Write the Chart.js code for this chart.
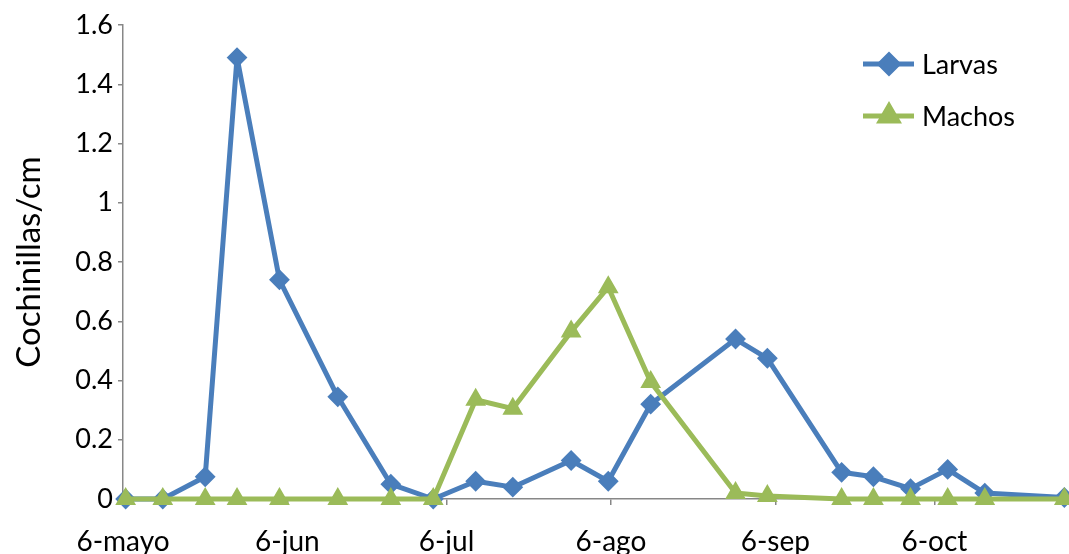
<!DOCTYPE html>
<html>
<head>
<meta charset="utf-8">
<script src="https://cdn.jsdelivr.net/npm/chart.js@4.4.1/dist/chart.umd.min.js"></script>
<style>
  html, body { margin: 0; padding: 0; background: #fff; }
  canvas { display: block; }
</style>
</head>
<body>
<canvas id="chart" width="1069" height="554"></canvas>
<script>
// fechas de muestreo (mes-dia)
const fechas = ['05-06', '05-13', '05-21', '05-27', '06-04', '06-15', '06-25', '07-03', '07-11', '07-18',
                '07-29', '08-05', '08-13', '08-29', '09-04', '09-18', '09-24', '10-01', '10-08', '10-15', '10-30'];
const larvas = [0, 0, 0.075, 1.49, 0.74, 0.345, 0.05, 0, 0.06, 0.04,
                0.13, 0.06, 0.32, 0.54, 0.475, 0.09, 0.075, 0.035, 0.10, 0.02, 0.005];
const machos = [0, 0, 0, 0, 0, 0, 0, 0, 0.335, 0.305,
                0.565, 0.715, 0.395, 0.02, 0.01, 0, 0, 0, 0, 0, 0];
const tickFechas = ['05-06', '06-06', '07-06', '08-06', '09-06', '10-06'];
const tickLabels = ['6-mayo', '6-jun', '6-jul', '6-ago', '6-sep', '6-oct'];
const yTicks = [0, 0.2, 0.4, 0.6, 0.8, 1, 1.2, 1.4, 1.6];

const FONT = 'Lato, "Open Sans", sans-serif';
const AZUL = '#4a7ebb';
const VERDE = '#9bbb59';
const GRIS = '#878787';

// days since 6 May; each date occupies a one-day slot, point in the middle
function dia(md) {
    const [m, d] = md.split('-').map(Number);
    return (Date.UTC(2013, m - 1, d) - Date.UTC(2013, 4, 6)) / 86400000;
}

const xMin = dia(fechas[0]) - 0.5;
const xMax = dia(fechas[fechas.length - 1]) + 0.5;

const leyenda = {
    id: 'leyenda',
    afterDraw(chart) {
        const ctx = chart.ctx;
        const items = [
            { ds: chart.data.datasets[0], y: 64 },
            { ds: chart.data.datasets[1], y: 116 }
        ];
        ctx.save();
        items.forEach(it => {
            ctx.strokeStyle = it.ds.borderColor;
            ctx.lineWidth = 5;
            ctx.beginPath();
            ctx.moveTo(863, it.y);
            ctx.lineTo(914, it.y);
            ctx.stroke();
            ctx.fillStyle = it.ds.pointBackgroundColor;
            ctx.strokeStyle = it.ds.pointBorderColor;
            Chart.helpers.drawPoint(ctx, {
                pointStyle: it.ds.pointStyle,
                radius: it.ds.pointRadius,
                rotation: 0,
                borderWidth: it.ds.pointBorderWidth
            }, 889, it.y);
            ctx.fillStyle = '#000';
            ctx.font = '27px ' + FONT;
            ctx.textBaseline = 'middle';
            ctx.textAlign = 'left';
            ctx.fillText(it.ds.label, 922, it.y + 1);
        });
        ctx.restore();
    }
};

new Chart(document.getElementById('chart'), {
    type: 'line',
    data: {
        datasets: [{
            label: 'Larvas',
            data: fechas.map((f, i) => ({ x: dia(f), y: larvas[i] })),
            borderColor: AZUL,
            backgroundColor: AZUL,
            pointBackgroundColor: AZUL,
            pointBorderColor: AZUL,
            borderWidth: 5,
            borderJoinStyle: 'round',
            pointStyle: 'rectRot',
            pointRadius: 9,
            pointBorderWidth: 2,
            tension: 0,
            order: 2,
            clip: false
        }, {
            label: 'Machos',
            data: fechas.map((f, i) => ({ x: dia(f), y: machos[i] })),
            borderColor: VERDE,
            backgroundColor: VERDE,
            pointBackgroundColor: VERDE,
            pointBorderColor: VERDE,
            borderWidth: 5,
            borderJoinStyle: 'round',
            pointStyle: 'triangle',
            pointRadius: 10,
            pointBorderWidth: 2,
            tension: 0,
            order: 1,
            clip: false
        }]
    },
    options: {
        responsive: false,
        devicePixelRatio: 1,
        animation: false,
        layout: { autoPadding: false, padding: { top: 25, right: 2, left: 0, bottom: 0 } },
        plugins: {
            legend: { display: false },
            tooltip: { enabled: false }
        },
        scales: {
            x: {
                type: 'linear',
                min: xMin,
                max: xMax,
                afterBuildTicks: (scale) => {
                    scale.ticks = tickFechas.map(f => ({ value: dia(f) - 0.5 }));
                },
                afterFit: (scale) => {
                    scale.height = 55;
                    scale.paddingLeft = 0;
                    scale.paddingRight = 0;
                },
                ticks: {
                    autoSkip: false,
                    maxRotation: 0,
                    padding: 20,
                    color: '#000',
                    font: { family: FONT, size: 28 },
                    callback: (v) => {
                        const i = tickFechas.findIndex(f => dia(f) - 0.5 === v);
                        return i >= 0 ? tickLabels[i] : '';
                    }
                },
                grid: {
                    drawOnChartArea: false,
                    drawTicks: true,
                    tickLength: 6,
                    color: GRIS,
                    lineWidth: 1.5
                },
                border: { color: GRIS, width: 1.5 }
            },
            y: {
                min: 0,
                max: 1.6,
                afterBuildTicks: (scale) => {
                    scale.ticks = yTicks.map(v => ({ value: v }));
                },
                afterFit: (scale) => {
                    scale.width = 123;
                    scale.paddingTop = 0;
                    scale.paddingBottom = 0;
                },
                ticks: {
                    padding: 5,
                    color: '#000',
                    font: { family: FONT, size: 27 },
                    callback: (v) => String(Math.round(v * 10) / 10)
                },
                grid: {
                    drawOnChartArea: false,
                    drawTicks: true,
                    tickLength: 5,
                    color: GRIS,
                    lineWidth: 1.5
                },
                border: { color: GRIS, width: 1.5 },
                title: {
                    display: true,
                    text: 'Cochinillas/cm',
                    color: '#000',
                    font: { family: FONT, size: 33 },
                    padding: { top: 10, bottom: 0 }
                }
            }
        }
    },
    plugins: [leyenda]
});
</script>
</body>
</html>
